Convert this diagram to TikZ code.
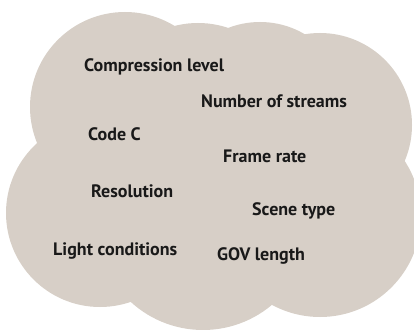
\documentclass[tikz,border=0pt]{standalone}
\usepackage{fontspec}
\setmainfont{PT Sans}
\definecolor{cloudfill}{HTML}{D7CFC7}
\begin{document}
\begin{tikzpicture}[x=1pt,y=-1pt,
  lbl/.style={anchor=base west, inner sep=0pt, font=\fontsize{18}{21}\selectfont\bfseries, text=black!90}]
\useasboundingbox (0,0) rectangle (414,329);
\clip (0,0) rectangle (414,329);
\fill[cloudfill]
  (125,107) circle[radius=95]
  (198,118) circle[radius=95]
  (260,110) circle[radius=88]
  (320,125) circle[radius=92]
  (320,216) circle[radius=101]
  (203,223) circle[radius=107]
  (100,213) circle[radius=94];
\node[lbl] (comp) at (84,71) {Compression level};
\node[lbl] (streams) at (201,107) {Number of streams};
\node[lbl] (code) at (88,140) {Code C};
\node[lbl] (frame) at (223,162) {Frame rate};
\node[lbl] (res) at (91,197) {Resolution};
\node[lbl] (scene) at (252,215) {Scene type};
\node[lbl] (light) at (53,255) {Light conditions};
\node[lbl] (gov) at (217,260) {GOV length};
\end{tikzpicture}
\end{document}
